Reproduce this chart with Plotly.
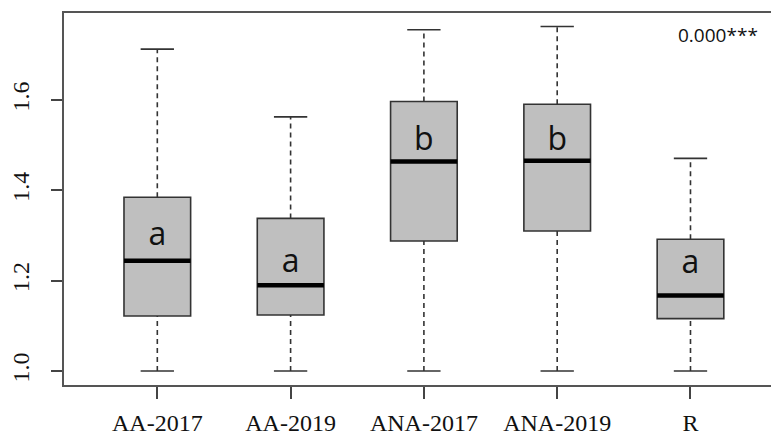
import plotly.graph_objects as go

# Five groups with their box-plot statistics
groups = ["AA-2017", "AA-2019", "ANA-2017", "ANA-2019", "R"]
lower_whisker = [1.000, 1.000, 1.000, 1.000, 1.000]
q1 = [1.122, 1.124, 1.288, 1.310, 1.116]
median = [1.244, 1.190, 1.464, 1.466, 1.167]
q3 = [1.385, 1.338, 1.597, 1.591, 1.292]
upper_whisker = [1.713, 1.563, 1.756, 1.763, 1.471]

# Significance letters and their vertical placement
letters = ["a", "a", "b", "b", "a"]
letter_y = [1.296, 1.236, 1.507, 1.507, 1.234]

y_ticks = [1.0, 1.2, 1.4, 1.6]
p_label = "0.000***"

positions = list(range(1, len(groups) + 1))
box_w = 0.5
cap_w = 0.25
edge = "#333333"
serif = "Liberation Serif, Times New Roman, serif"

fig = go.Figure()

# Dashed whiskers and solid caps
for x, lo, a, b, hi in zip(positions, lower_whisker, q1, q3, upper_whisker):
    for y0, y1 in ((lo, a), (b, hi)):
        fig.add_trace(go.Scatter(x=[x, x], y=[y0, y1], mode="lines",
                                 line=dict(color=edge, width=1.6, dash="5px,4px"),
                                 hoverinfo="skip", showlegend=False))
    for yc in (lo, hi):
        fig.add_trace(go.Scatter(x=[x - cap_w / 2, x + cap_w / 2], y=[yc, yc], mode="lines",
                                 line=dict(color=edge, width=1.6),
                                 hoverinfo="skip", showlegend=False))

# Boxes (whiskers collapsed onto the box; drawn separately above)
fig.add_trace(go.Box(x=positions, q1=q1, median=median, q3=q3,
                     lowerfence=q1, upperfence=q3,
                     width=box_w, fillcolor="#bfbfbf",
                     line=dict(color=edge, width=1.6),
                     hoverinfo="skip", showlegend=False))

# Thick median bars
for x, m in zip(positions, median):
    fig.add_trace(go.Scatter(x=[x - box_w / 2, x + box_w / 2], y=[m, m], mode="lines",
                             line=dict(color="black", width=4.5),
                             hoverinfo="skip", showlegend=False))

# Group letters
fig.add_trace(go.Scatter(x=positions, y=letter_y, mode="text", text=letters,
                         textfont=dict(family="Open Sans", size=32, color="#111111"),
                         hoverinfo="skip", showlegend=False))

fig.add_annotation(x=0.984, y=0.941, xref="x domain", yref="y domain", text=p_label,
                   showarrow=False, xanchor="right", yanchor="middle",
                   font=dict(family="Open Sans", size=19, color="#111111"))

fig.update_layout(
    width=771, height=435,
    margin=dict(l=64, r=0, t=13, b=50),
    paper_bgcolor="white", plot_bgcolor="white",
    xaxis=dict(range=[0.3, 5.604], tickvals=positions, ticktext=groups,
               showgrid=False, zeroline=False, showline=True, mirror=True,
               linecolor="#555555", linewidth=1.8,
               ticks="outside", ticklen=12, tickwidth=1.5, tickcolor="#444444",
               ticklabelstandoff=3,
               tickfont=dict(family=serif, size=24, color="#111111")),
    yaxis=dict(range=[0.969, 1.793], tickvals=y_ticks,
               ticktext=[f"{v:.1f}" for v in y_ticks], tickangle=-90,
               showgrid=False, zeroline=False, showline=True,
               linecolor="#555555", linewidth=1.8,
               ticks="outside", ticklen=11, tickwidth=1.5, tickcolor="#444444",
               ticklabelstandoff=13,
               tickfont=dict(family=serif, size=24, color="#111111")),
)

fig.write_html("out.html")
